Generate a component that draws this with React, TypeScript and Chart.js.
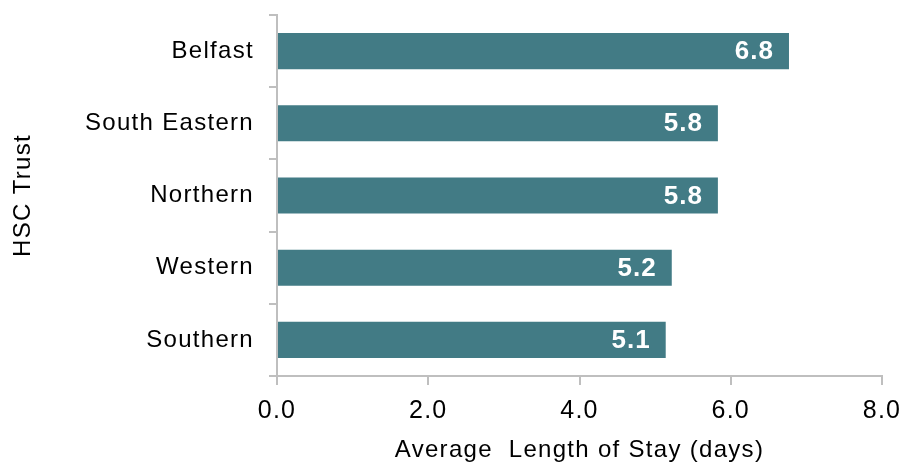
import React, { useEffect, useRef } from 'react';
import { Chart, registerables } from 'chart.js';

Chart.register(...registerables);

const categories = ['Belfast', 'South Eastern', 'Northern', 'Western', 'Southern'];
const avgStay = [6.77, 5.83, 5.83, 5.22, 5.14];
const xMin = 0;
const xMax = 8;
const xStep = 2;
const xTitle = 'Average  Length of Stay (days)';
const yTitle = 'HSC Trust';

const FONT = '"Liberation Sans", Arial, sans-serif';
const BAR_COLOR = '#427b85';
const AXIS_COLOR = '#bfbfbf';

const spacingPlugin = {
  id: 'spacing',
  beforeLayout(chart: any) {
    chart.ctx.letterSpacing = '1.3px';
  },
  beforeDraw(chart: any) {
    chart.ctx.letterSpacing = '1.3px';
  },
};

const barLabelPlugin = {
  id: 'barLabels',
  afterDatasetsDraw(chart: any) {
    const ctx = chart.ctx;
    const meta = chart.getDatasetMeta(0);
    const data = chart.data.datasets[0].data as number[];
    ctx.save();
    ctx.letterSpacing = '1px';
    ctx.font = `bold 26px ${FONT}`;
    ctx.fillStyle = '#ffffff';
    ctx.textAlign = 'right';
    ctx.textBaseline = 'middle';
    meta.data.forEach((bar: any, i: number) => {
      ctx.fillText(data[i].toFixed(1), bar.x - 15, bar.y + 1);
    });
    ctx.restore();
  },
};

export default function App() {
  const canvasRef = useRef<HTMLCanvasElement | null>(null);

  useEffect(() => {
    document.body.style.margin = '0';
    document.body.style.overflow = 'hidden';
    const canvas = canvasRef.current;
    if (!canvas) return;
    const chart = new Chart(canvas, {
      type: 'bar',
      data: {
        labels: categories,
        datasets: [
          {
            data: avgStay,
            backgroundColor: BAR_COLOR,
            borderWidth: 0,
            barPercentage: 0.5,
            categoryPercentage: 1.0,
          },
        ],
      },
      plugins: [spacingPlugin, barLabelPlugin],
      options: {
        indexAxis: 'y',
        responsive: false,
        animation: false,
        devicePixelRatio: 1,
        layout: { padding: { top: 15, right: 23, bottom: 0, left: 0 } },
        plugins: {
          legend: { display: false },
          tooltip: { enabled: false },
        },
        scales: {
          x: {
            type: 'linear',
            position: 'bottom',
            min: xMin,
            max: xMax,
            ticks: {
              stepSize: xStep,
              callback: (v: any) => Number(v).toFixed(1),
              color: '#000000',
              font: { family: FONT, size: 25 },
              padding: 11,
            },
            grid: {
              drawOnChartArea: false,
              drawTicks: true,
              tickLength: 9,
              color: AXIS_COLOR,
              lineWidth: 2,
            },
            border: { display: true, color: AXIS_COLOR, width: 2 },
            title: {
              display: true,
              text: xTitle,
              color: '#000000',
              font: { family: FONT, size: 24 },
              padding: { top: 0, bottom: -3 },
            },
            afterFit: (scale: any) => {
              scale.height = 86;
              scale.paddingLeft = 0;
              scale.paddingRight = 0;
            },
          },
          y: {
            type: 'category',
            position: 'left',
            ticks: {
              color: '#000000',
              font: { family: FONT, size: 24 },
              padding: 15,
            },
            grid: {
              offset: true,
              drawOnChartArea: false,
              drawTicks: true,
              tickLength: 8,
              color: AXIS_COLOR,
              lineWidth: 2,
            },
            border: { display: true, color: AXIS_COLOR, width: 2 },
            title: {
              display: true,
              text: yTitle,
              color: '#000000',
              font: { family: FONT, size: 24 },
              padding: { top: 9, bottom: 0 },
            },
            afterFit: (scale: any) => {
              scale.width = 277;
              scale.paddingTop = 0;
              scale.paddingBottom = 0;
            },
          },
        },
      },
    });
    return () => chart.destroy();
  }, []);

  return (
    <div style={{ width: 905, height: 462, position: 'relative' }}>
      <canvas ref={canvasRef} width={905} height={462} style={{ display: 'block' }} />
    </div>
  );
}
